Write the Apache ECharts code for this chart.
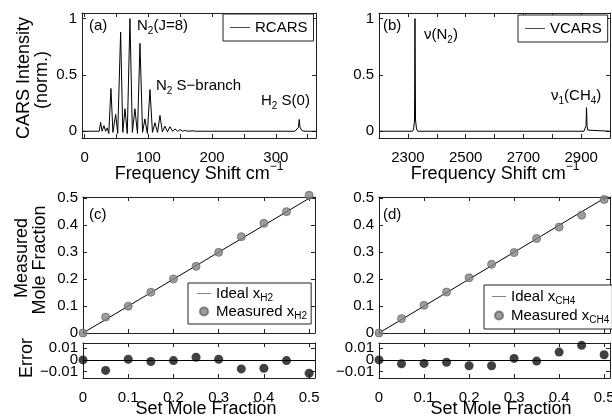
<!DOCTYPE html>
<html>
<head>
<meta charset="utf-8">
<script src="https://cdn.jsdelivr.net/npm/echarts@6/dist/echarts.min.js"></script>
<style>
  html, body { margin: 0; padding: 0; background: #fff; }
  #chart { width: 612px; height: 420px; }
</style>
</head>
<body>
<div id="chart"></div>
<script>
// ---- Rotational CARS spectrum (normalised), N2 S-branch + H2 S(0)
const rcarsShift = [-4, 18, 21, 23, 25.2, 27.5, 30.4, 33, 35.6, 38, 41.4, 44.5, 48.8, 52, 56.6, 60,
  63.4, 67, 71.2, 75, 79, 83, 86.9, 91, 94.7, 98.5, 102.6, 106.5, 110.4, 114.5, 118.3, 122, 126,
  130, 133.9, 138, 142, 146, 150, 154, 158, 162, 170, 175, 330, 333, 335.5, 336.7, 338, 340.5, 344, 363];
const rcarsIntensity = [0, 0, 0.01, 0, 0.08, 0, 0.05, 0, 0.03, -0.02, 0.38, -0.01, 0.15, -0.02, 0.88, -0.01,
  0.2, -0.02, 1.0, -0.01, 0.2, -0.02, 0.78, -0.01, 0.11, -0.02, 0.37, -0.01, 0.075, -0.01, 0.14, -0.005, 0.045,
  -0.005, 0.04, 0, 0.02, 0, 0.015, 0, 0.008, 0, 0.004, 0, 0, 0.008, 0.035, 0.105, 0.035, 0.008, 0, 0];

// ---- Vibrational CARS spectrum (normalised), N2 Q-branch and CH4 nu1
const vcarsShift = [2200, 2316, 2320, 2323, 2324.6, 2326.5, 2330, 2334, 2910, 2914, 2917, 2918.7, 2920.5, 2923, 2927, 3000];
const vcarsIntensity = [0, 0, 0.02, 0.1, 1.0, 0.1, 0.02, 0, 0, 0.01, 0.05, 0.21, 0.05, 0.01, 0, 0];

// ---- Calibration: set vs measured mole fractions
const setFraction = [0, 0.05, 0.1, 0.15, 0.2, 0.25, 0.3, 0.35, 0.4, 0.45, 0.5];
const measuredH2 = [0, 0.059, 0.0994, 0.1514, 0.2006, 0.2477, 0.2994, 0.3577, 0.4071, 0.4506, 0.5114];
const measuredCH4 = [0, 0.0533, 0.103, 0.152, 0.205, 0.255, 0.2987, 0.351, 0.3933, 0.4375, 0.4956];
const idealRange = [0, 0.6];

// ---- Tick positions and labels
const rcarsTicks = [0, 50, 100, 150, 200, 250, 300, 350];
const rcarsLabels = [0, 100, 200, 300];
const vcarsTicks = [2300, 2400, 2500, 2600, 2700, 2800, 2900];
const vcarsLabels = [2300, 2500, 2700, 2900];
const intensityTicks = [0, 0.5, 1];
const fractionTicks = [0, 0.1, 0.2, 0.3, 0.4, 0.5];
const errorTicks = [-0.01, 0, 0.01];
const errorOuterLabels = [-0.01, 0.01];
const errorZeroLabel = [0];

const FONT = '"Liberation Sans", Arial, Helvetica, sans-serif';
const INK = '#000';
const FRAME = '#222';

const zip = (xs, ys) => xs.map((x, i) => [x, ys[i]]);
const errorOf = (meas) => setFraction.map((s, i) => [s, +(s - meas[i]).toFixed(5)]);
const numLabel = (v) => (v < 0 ? '\u2212' + Math.abs(v) : String(v));

const grids = [
  { left: 82,  top: 13,  width: 234, height: 125 },  // (a)
  { left: 379, top: 13,  width: 231, height: 125 },  // (b)
  { left: 83,  top: 197, width: 232, height: 136 },  // (c)
  { left: 379, top: 197, width: 231, height: 136 },  // (d)
  { left: 83,  top: 343, width: 232, height: 35 },   // (c) error
  { left: 379, top: 343, width: 231, height: 35 }    // (d) error
].map(g => Object.assign({ outerBoundsMode: 'none', containLabel: false }, g));

const xAxes = [], yAxes = [];
const labelOf = (vals, margin) => vals ? {
  show: true, customValues: vals, margin: margin, fontSize: 15, color: INK,
  fontFamily: FONT, formatter: numLabel, hideOverlap: false, showMinLabel: true, showMaxLabel: true
} : { show: false };
function boxAxes(gridIndex, x, y) {
  const common = (min, max, ticks) => ({
    type: 'value', gridIndex, min, max, splitLine: { show: false },
    axisLine: { show: true, onZero: false, lineStyle: { color: FRAME, width: 1 } },
    axisTick: { show: true, inside: true, length: 4, customValues: ticks, lineStyle: { color: FRAME } }
  });
  const xi = xAxes.length, yi = yAxes.length;
  xAxes.push(Object.assign(common(x.min, x.max, x.ticks), { position: 'bottom', axisLabel: labelOf(x.labels, 12) }));
  xAxes.push(Object.assign(common(x.min, x.max, x.ticks), { position: 'top', axisLabel: { show: false } }));
  yAxes.push(Object.assign(common(y.min, y.max, y.ticks), { position: 'left', axisLabel: labelOf(y.labels, 5) }));
  yAxes.push(Object.assign(common(y.min, y.max, y.ticks), { position: 'right', axisLabel: { show: false } }));
  return { xAxisIndex: xi, yAxisIndex: yi };
}
// extra left-hand label row for the tightly spaced error ticks
function extraLeftLabels(gridIndex, min, max, vals) {
  yAxes.push({
    type: 'value', gridIndex, min, max, position: 'left', splitLine: { show: false },
    axisLine: { show: false, onZero: false }, axisTick: { show: false },
    axisLabel: labelOf(vals, 5)
  });
}

const fracX = { min: 0, max: 0.513, ticks: fractionTicks };
const errY = { min: -0.0155, max: 0.0145, ticks: errorTicks, labels: errorOuterLabels };
const axA = boxAxes(0, { min: -4, max: 363, ticks: rcarsTicks, labels: rcarsLabels },
                       { min: -0.06, max: 1.05, ticks: intensityTicks, labels: intensityTicks });
const axB = boxAxes(1, { min: 2200, max: 3000, ticks: vcarsTicks, labels: vcarsLabels },
                       { min: -0.06, max: 1.05, ticks: intensityTicks, labels: intensityTicks });
const axC = boxAxes(2, fracX, { min: 0, max: 0.505, ticks: fractionTicks, labels: fractionTicks });
const axD = boxAxes(3, fracX, { min: 0, max: 0.505, ticks: fractionTicks, labels: fractionTicks });
const axE = boxAxes(4, Object.assign({ labels: fractionTicks }, fracX), errY);
const axF = boxAxes(5, Object.assign({ labels: fractionTicks }, fracX), errY);
extraLeftLabels(4, errY.min, errY.max, errorZeroLabel);
extraLeftLabels(5, errY.min, errY.max, errorZeroLabel);

const spectrumLine = (name, ax, data) => Object.assign({
  name, type: 'line', data, symbol: 'none', animation: false,
  lineStyle: { color: '#000', width: 1 }, itemStyle: { color: '#000' }
}, ax);
const idealLine = (name, ax) => Object.assign({
  name, type: 'line', data: idealRange.map(v => [v, v]), symbol: 'none', animation: false,
  lineStyle: { color: '#000', width: 1 }, itemStyle: { color: '#000' }
}, ax);
const measuredDots = (name, ax, meas) => Object.assign({
  name, type: 'scatter', data: zip(setFraction, meas), symbolSize: 8, clip: false, animation: false,
  itemStyle: { color: '#858585', borderColor: '#6a6a6a', borderWidth: 1 }, z: 3
}, ax);
const errorDots = (ax, meas) => Object.assign({
  type: 'scatter', data: errorOf(meas), symbolSize: 9, clip: false, animation: false,
  itemStyle: { color: '#111' }, z: 3,
  markLine: {
    silent: true, symbol: 'none', animation: false, label: { show: false },
    lineStyle: { color: '#000', width: 1, type: 'solid' }, data: [{ yAxis: 0 }]
  }
}, ax);

// legend text with subscripts; line entries get a thin bar icon
const legendText = {
  'RCARS': 'RCARS', 'VCARS': 'VCARS',
  'Ideal xH2': '{t|Ideal x}{s|H2}', 'Measured xH2': '{t|Measured x}{s|H2}',
  'Ideal xCH4': '{t|Ideal x}{s|CH4}', 'Measured xCH4': '{t|Measured x}{s|CH4}'
};
const legendRich = {
  t: { fontSize: 15, fontFamily: FONT, color: INK },
  s: { fontSize: 10, fontFamily: FONT, color: INK, padding: [9, 0, 0, 0] }
};
const BAR = 'path://M0,0 L40,0 L40,1.4 L0,1.4 Z';
const mkLegend = (items, left, top, padding, gap, itemWidth, textGap) => ({
  data: items.map(n => n.startsWith('Measured') ? { name: n, icon: 'circle' } : { name: n, icon: BAR }),
  left, top, orient: 'vertical', padding, itemGap: gap,
  itemWidth, itemHeight: 8, itemTextGap: textGap, symbolKeepAspect: true,
  borderColor: FRAME, borderWidth: 1, backgroundColor: '#fff',
  selectedMode: false, formatter: n => legendText[n],
  textStyle: { fontSize: 15, fontFamily: FONT, color: INK, rich: legendRich }
});

// free text: panel tags, peak annotations and axis titles
const richBase = {
  t: { fontSize: 15, fontFamily: FONT, fill: INK },
  s: { fontSize: 10, fontFamily: FONT, fill: INK, padding: [10, 0, 0, 0] },
  b: { fontSize: 18, fontFamily: FONT, fill: INK },
  bp: { fontSize: 12, fontFamily: FONT, fill: INK, padding: [0, 0, 14, 0] }
};
const txt = (x, y, text, opts) => Object.assign({
  type: 'text', x, y, silent: true,
  style: Object.assign({ text, rich: richBase, align: 'left', verticalAlign: 'middle',
    fontFamily: FONT, fontSize: 15, fill: INK }, (opts && opts.style) || {})
}, opts && opts.rotation ? { rotation: opts.rotation } : {});
const ROT = Math.PI / 2;

const graphics = [
  txt(89, 26, '{t|(a)}'),
  txt(137, 26, '{t|N}{s|2}{t|(J=8)}'),
  txt(156, 86, '{t|N}{s|2}{t| S\u2212branch}'),
  txt(261, 101, '{t|H}{s|2}{t| S(0)}'),
  txt(383, 26, '{t|(b)}'),
  txt(424, 35, '{t|\u03bd(N}{s|2}{t|)}'),
  txt(551, 96, '{t|\u03bd}{s|1}{t|(CH}{s|4}{t|)}'),
  txt(89, 215, '{t|(c)}'),
  txt(383, 215, '{t|(d)}'),
  txt(199, 174, '{b|Frequency Shift cm}{bp|\u22121}', { style: { align: 'center' } }),
  txt(495, 174, '{b|Frequency Shift cm}{bp|\u22121}', { style: { align: 'center' } }),
  txt(206, 409, '{b|Set Mole Fraction}', { style: { align: 'center' } }),
  txt(501, 409, '{b|Set Mole Fraction}', { style: { align: 'center' } }),
  txt(24, 78, '{b|CARS Intensity}', { rotation: ROT, style: { align: 'center' } }),
  txt(42, 80, '{b|(norm.)}', { rotation: ROT, style: { align: 'center' } }),
  txt(22, 258, '{b|Measured}', { rotation: ROT, style: { align: 'center' } }),
  txt(40, 260, '{b|Mole Fraction}', { rotation: ROT, style: { align: 'center' } }),
  txt(27, 358, '{b|Error}', { rotation: ROT, style: { align: 'center' } })
];

const chart = echarts.init(document.getElementById('chart'), null, { renderer: 'canvas' });
chart.setOption({
  backgroundColor: '#fff',
  animation: false,
  textStyle: { fontFamily: FONT },
  grid: grids,
  xAxis: xAxes,
  yAxis: yAxes,
  legend: [
    mkLegend(['RCARS'], 223, 14, [6, 6, 6, 7], 4, 20, 5),
    mkLegend(['VCARS'], 518, 15, [6, 6, 6, 7], 4, 20, 5),
    mkLegend(['Ideal xH2', 'Measured xH2'], 188, 283, [3, 4, 3, 9], 1, 14, 3),
    mkLegend(['Ideal xCH4', 'Measured xCH4'], 484, 285, [4, 3, 4, 8], 2, 14, 3)
  ],
  series: [
    spectrumLine('RCARS', axA, zip(rcarsShift, rcarsIntensity)),
    spectrumLine('VCARS', axB, zip(vcarsShift, vcarsIntensity)),
    idealLine('Ideal xH2', axC),
    measuredDots('Measured xH2', axC, measuredH2),
    idealLine('Ideal xCH4', axD),
    measuredDots('Measured xCH4', axD, measuredCH4),
    errorDots(axE, measuredH2),
    errorDots(axF, measuredCH4)
  ],
  graphic: graphics
});
</script>
</body>
</html>
